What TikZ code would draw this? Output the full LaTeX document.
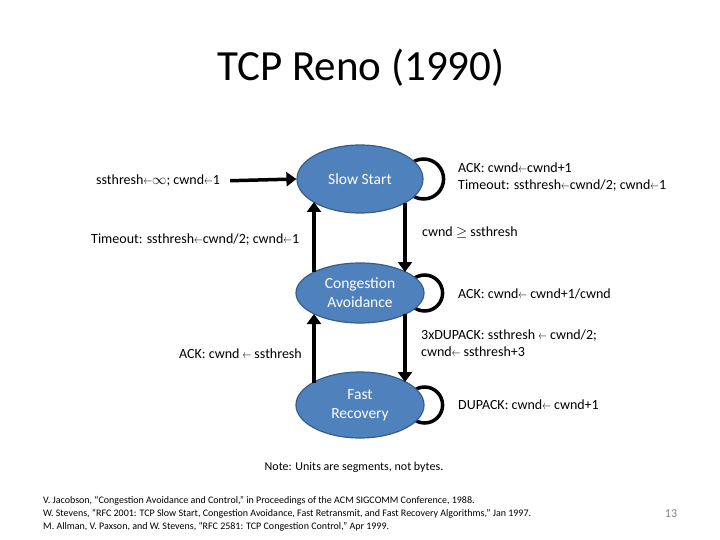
\documentclass[tikz,border=0pt]{standalone}
\usepackage{fontspec}
\setmainfont{Carlito}
\usetikzlibrary{shapes.geometric,arrows.meta,calc,backgrounds}

\definecolor{statefill}{HTML}{4F81BD}
\definecolor{stateline}{HTML}{385D8A}
\newcommand{\larr}{\scalebox{0.6}[0.85]{$\leftarrow$}}

\begin{document}
\begin{tikzpicture}[
            x=1pt, y=-1pt,
            state/.style={ellipse, draw=stateline, line width=1.2pt, fill=statefill,
                text=white, inner sep=0pt, align=center, font=\fontsize{15.5}{19}\selectfont},
            flow/.style={line width=3.5pt, -{Triangle[length=10pt,width=14pt]}},
            selfloop/.style={line width=3.5pt},
            lbl/.style={inner sep=0pt, align=left, font=\fontsize{14}{17}\selectfont}]
    \useasboundingbox (0,0) rectangle (720,540);
    \node[font=\fontsize{43}{48}\selectfont] (title) at (361,68) {TCP Reno (1990)};

    % states
    \node[state, minimum width=126pt, minimum height=68pt] (ss) at (360,179) {Slow Start};
    \node[state, minimum width=128pt, minimum height=60pt] (ca) at (360,293) {Congestion\\Avoidance};
    \node[state, minimum width=128pt, minimum height=66pt] (fr) at (360,405) {Fast\\Recovery};

    % self loops
    \begin{scope}[on background layer]
        \draw[selfloop] (ss.east) circle[radius=20pt];
        \draw[selfloop] (ca.east) circle[radius=18pt];
        \draw[selfloop] (fr.east) circle[radius=18pt];
    \end{scope}

    % labels
    \node[lbl, anchor=west] (init) at (96,181) {ssthresh\larr$\infty$; cwnd\larr1};
    \node[lbl, anchor=west] (sstimeout) at (91,240) {Timeout: ssthresh\larr cwnd/2; cwnd\larr1};
    \node[lbl, anchor=west] (ssloop) at (458,177.5) {ACK: cwnd\larr cwnd+1\\Timeout: ssthresh\larr cwnd/2; cwnd\larr1};
    \node[lbl, anchor=west] (ssca) at (422,233) {cwnd $\geq$ ssthresh};
    \node[lbl, anchor=west] (caloop) at (458,294) {ACK: cwnd\larr{} cwnd+1/cwnd};
    \node[lbl, anchor=west] (cafr) at (421,343.5) {3xDUPACK: ssthresh \larr{} cwnd/2;\\cwnd\larr{} ssthresh+3};
    \node[lbl, anchor=east] (frca) at (302,354) {ACK: cwnd \larr{} ssthresh};
    \node[lbl, anchor=west] (frloop) at (458,405) {DUPACK: cwnd\larr{} cwnd+1};

    % transitions
    \draw[flow, shorten <=10pt] (init.east) -- (ss.west);
    \draw[flow] ($(ss)+(45,24)$) -- ($(ca)+(45,-21)$);
    \draw[flow] ($(ca)+(-46,-21)$) -- ($(ss)+(-46,23)$);
    \draw[flow] ($(ca)+(45,21)$) -- ($(fr)+(45,-23)$);
    \draw[flow] ($(fr)+(-46,-22)$) -- ($(ca)+(-46,21)$);

    % notes and references
    \node[font=\fontsize{12}{14}\selectfont] (note) at (354,467) {Note: Units are segments, not bytes.};
    \node[anchor=west, inner sep=0pt, align=left, font=\fontsize{10}{13}\selectfont] (refs) at (43,514) {%
        V. Jacobson, ``Congestion Avoidance and Control,'' in Proceedings of the ACM SIGCOMM Conference, 1988.\\
        W. Stevens, ``RFC 2001: TCP Slow Start, Congestion Avoidance, Fast Retransmit, and Fast Recovery Algorithms,'' Jan 1997.\\
        M. Allman, V. Paxson, and W. Stevens, ``RFC 2581: TCP Congestion Control,'' Apr 1999.};
    \node[text=gray, font=\fontsize{12}{14}\selectfont] (page) at (671,514) {13};
\end{tikzpicture}
\end{document}
